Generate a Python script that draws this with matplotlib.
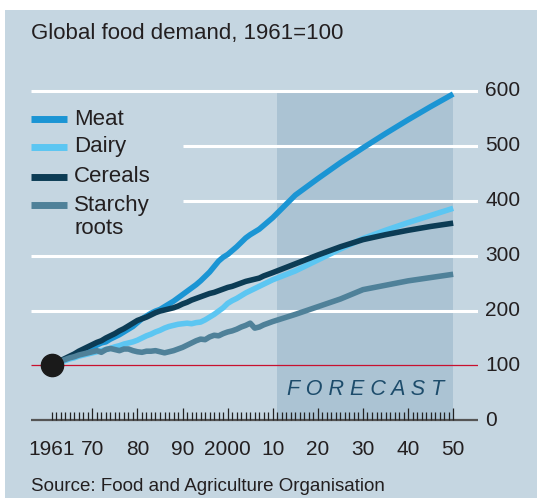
from matplotlib import pyplot as plt
from matplotlib.patches import Rectangle
from matplotlib.lines import Line2D

plt.rcParams['font.family'] = ['Liberation Sans', 'DejaVu Sans']

title = "Global food demand, 1961=100"
source = "Source: Food and Agriculture Organisation"

# historical series, one value per year 1961-2010
hist_years = list(range(1961, 2011))
meat_hist = [100, 104, 108, 111, 115, 119, 122, 126, 129, 133,
             137, 141, 143, 148, 152, 156, 161, 166, 171, 178,
             185, 190, 195, 199, 202, 207, 212, 217, 223, 229,
             235, 241, 247, 254, 262, 270, 280, 290, 297, 302,
             309, 316, 324, 332, 338, 343, 348, 355, 362, 369]
dairy_hist = [100, 103, 106, 109, 112, 114, 117, 119, 121, 123,
              125, 127, 129, 131, 134, 136, 139, 141, 143, 146,
              150, 154, 157, 161, 164, 168, 171, 173, 175, 176,
              177, 176, 178, 179, 183, 188, 193, 199, 205, 213,
              218, 222, 227, 232, 236, 240, 244, 248, 252, 256]
cereals_hist = [100, 105, 109, 113, 117, 121, 126, 130, 134, 138,
                142, 145, 150, 154, 158, 163, 167, 172, 177, 182,
                185, 188, 192, 196, 199, 201, 203, 205, 208, 212,
                215, 219, 222, 225, 228, 231, 233, 236, 239, 242,
                244, 247, 250, 253, 255, 257, 259, 263, 266, 269]
roots_hist = [100, 104, 108, 111, 114, 116, 119, 121, 123, 125,
              127, 124, 129, 131, 129, 127, 130, 130, 127, 125,
              124, 126, 126, 127, 125, 123, 125, 127, 130, 133,
              137, 141, 145, 148, 147, 152, 155, 154, 158, 161,
              163, 166, 170, 173, 177, 168, 170, 174, 177, 180]

# forecast series
fc_years = [2010, 2015, 2020, 2025, 2030, 2035, 2040, 2045, 2050]
meat_fc = [369, 410, 440, 469, 496, 522, 547, 571, 594]
dairy_fc = [256, 272, 292, 312, 331, 346, 360, 373, 386]
cereals_fc = [269, 285, 301, 316, 329, 338, 346, 353, 359]
roots_fc = [180, 193, 207, 221, 238, 246, 254, 260, 266]

names = ["Meat", "Dairy", "Cereals", "Starchy", "roots"]
colors = ["#1b95d4", "#5cc6f2", "#0c3c55", "#4f8199"]

y_ticks = [0, 100, 200, 300, 400, 500, 600]
x_major = [1961, 1970, 1980, 1990, 2000, 2010, 2020, 2030, 2040, 2050]
x_labels = ["1961", "70", "80", "90", "2000", "10", "20", "30", "40", "50"]
forecast_span = (2011, 2050)

bg = "#c5d6e1"
txt = "#231f20"

fig = plt.figure(figsize=(5.37, 4.98), dpi=100, facecolor="white")
fig.patches.append(Rectangle((5 / 537, 0), 1, 1 - 10 / 498, transform=fig.transFigure,
                             facecolor=bg, edgecolor="none", zorder=-5))

ax = fig.add_axes([31 / 537, 1 - 434.2 / 498, 447 / 537, (434.2 - 68.7) / 498])
ax.set_zorder(2)
ax.set_facecolor("none")
ax.set_xlim(1956.4, 2055.5)
ax.set_ylim(-25, 640)
ax.axis("off")

# forecast shading
ax.fill_between(forecast_span, 0, 600, color="#abc3d3", lw=0, zorder=1)

# gridlines (400 and 500 start after the legend)
for v in y_ticks[2:]:
    x0 = 1990 if v in (400, 500) else 1956.4
    ax.hlines(v, x0, 2055.5, color="white", lw=2.2, zorder=2)
ax.hlines(100, 1956.4, 2055.5, color="#c8102e", lw=0.9, zorder=2)
ax.hlines(0, 1956.4, 2055.5, color="#555555", lw=1.6, zorder=3)

# year ticks
for yr in range(1961, 2051):
    h = 23 if yr in x_major[1:] else 15.5
    ax.vlines(yr, 0, h, color="#222222", lw=0.9, zorder=3)

for v in y_ticks:
    ax.text(2057.1, v, str(v), fontsize=15, color=txt, va="center", ha="left", clip_on=False)
for yr, lab in zip(x_major, x_labels):
    ax.text(yr, -52, lab, fontsize=15, color=txt, va="center", ha="center", clip_on=False)

ax.text(2030.5, 57, "F O R E C A S T", fontsize=15.5, style="italic",
        color="#1d4c6b", ha="center", va="center")

hist = [meat_hist, dairy_hist, cereals_hist, roots_hist]
fc = [meat_fc, dairy_fc, cereals_fc, roots_fc]
for i in [3, 1, 2, 0]:
    ax.plot(hist_years + fc_years[1:], hist[i] + fc[i][1:], color=colors[i],
            lw=4, solid_capstyle="butt", solid_joinstyle="round", zorder=5 + i)

ax.plot([1961], [100], "o", color="#1a1a1a", ms=16, zorder=20, clip_on=False)

# legend
leg_y = [119.3, 146.7, 176.7, 205, 228]
for c, y in zip(colors, leg_y):
    fig.add_artist(Line2D([31 / 537, 67 / 537], [1 - y / 498] * 2, color=c, lw=5,
                          solid_capstyle="butt"))
for name, y in zip(names, leg_y):
    fig.text(74 / 537, 1 - y / 498, name, fontsize=16, color=txt, va="center")

fig.text(31 / 537, 1 - 33 / 498, title, fontsize=16, color=txt, va="center")
fig.text(31 / 537, 1 - 486 / 498, source, fontsize=13.5, color=txt, va="center")

plt.savefig("out.png", dpi=100, facecolor="white")
